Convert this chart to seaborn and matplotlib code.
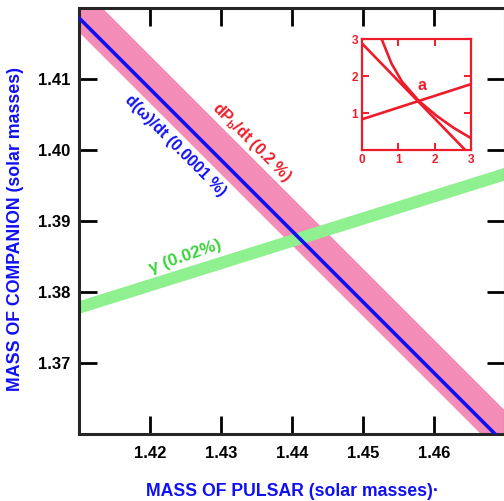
import numpy as np
import pandas as pd
import matplotlib
matplotlib.use("Agg")
import matplotlib.pyplot as plt
import seaborn as sns

# ---- data ----
pulsar_mass = [1.41, 1.47]
omega_dot_mc = [1.4186, 1.3586]          # d(omega)/dt line
pbdot_lo = [1.4166, 1.3566]              # dPb/dt band lower edge
pbdot_hi = [1.4233, 1.3633]              # dPb/dt band upper edge
gamma_lo = [1.3770, 1.3958]              # gamma band lower edge
gamma_hi = [1.3788, 1.3976]              # gamma band upper edge
x_ticks = [1.42, 1.43, 1.44, 1.45, 1.46]
y_ticks = [1.37, 1.38, 1.39, 1.40, 1.41]

# inset curves
inset_line_x = [0.0, 2.84]
inset_line_y = [2.88, 0.0]
inset_curve_x = [0.54, 0.81, 1.10, 1.57, 2.06, 2.52, 3.0]
inset_curve_y = [3.00, 2.34, 1.85, 1.32, 0.92, 0.60, 0.32]
inset_gamma_x = [0.0, 3.0]
inset_gamma_y = [0.83, 1.78]
inset_ticks = [0, 1, 2, 3]

BLUE = "#1010f4"
RED = "#ee1c2a"
GREEN = "#3ad43a"
PINK = "#f38cb6"
LGREEN = "#8ff08f"

sns.set_style("ticks")
plt.rcParams["font.family"] = ["Liberation Sans", "DejaVu Sans"]
plt.rcParams["font.weight"] = "bold"
plt.rcParams["mathtext.fontset"] = "custom"
plt.rcParams["mathtext.rm"] = "Liberation Sans:bold"
plt.rcParams["mathtext.it"] = "Liberation Sans:bold"
plt.rcParams["mathtext.bf"] = "Liberation Sans:bold"
plt.rcParams["mathtext.default"] = "rm"

fig = plt.figure(figsize=(5.04, 5.01), dpi=100)
W, H = 504, 501
ax = fig.add_axes([79 / W, (H - 434) / H, 426 / W, 426 / H])

ax.fill_between(pulsar_mass, pbdot_lo, pbdot_hi, color=PINK, lw=0, zorder=1)
ax.fill_between(pulsar_mass, gamma_lo, gamma_hi, color=LGREEN, lw=0, zorder=2)
df = pd.DataFrame({"mp": pulsar_mass, "mc": omega_dot_mc})
sns.lineplot(data=df, x="mp", y="mc", color=BLUE, lw=2.6, ax=ax, zorder=3)

ax.set_xlim(1.41, 1.47)
ax.set_ylim(1.36, 1.42)
ax.set_xticks(x_ticks)
ax.set_yticks(y_ticks)
ax.set_xticklabels([f"{v:.2f}" for v in x_ticks])
ax.set_yticklabels([f"{v:.2f}" for v in y_ticks])
ax.tick_params(direction="in", length=13, width=2.0, top=True, right=True,
               labelsize=12, colors="black")
ax.tick_params(axis="y", pad=6)
ax.tick_params(axis="x", pad=9)
for lab in ax.get_xticklabels() + ax.get_yticklabels():
    lab.set_fontweight("bold")
for sp in ax.spines.values():
    sp.set_linewidth(2.2)
    sp.set_visible(True)
ax.set_xlabel("")
ax.set_ylabel("")

ax.text(1.42352, 1.40056, "d(ω)/dt (0.0001 %)", color=BLUE, fontsize=11.5,
        fontweight="bold", rotation=-45, rotation_mode="anchor",
        ha="center", va="center", zorder=5)
ax.text(1.43437, 1.40113, r"dP$_\mathrm{b}$/dt (0.2 %)", color=RED, fontsize=11.5,
        fontweight="bold", rotation=-45, rotation_mode="anchor",
        ha="center", va="center", zorder=5)
ax.text(1.42493, 1.38493, "γ (0.02%)", color=GREEN, fontsize=12.5,
        fontweight="bold", rotation=19, rotation_mode="anchor",
        ha="center", va="center", zorder=5)

fig.text(292 / W, (H - 491) / H, "MASS OF PULSAR (solar masses)·", color=BLUE,
         fontsize=12.7, fontweight="bold", ha="center", va="center")
fig.text(16 / W, (H - 229) / H, "MASS OF COMPANION (solar masses)", color=BLUE,
         fontsize=12.8, fontweight="bold", ha="center", va="center", rotation=90)

# ---- inset ----
ins = fig.add_axes([362 / W, (H - 150) / H, 109 / W, 111 / H])
ins.set_facecolor("white")
sns.lineplot(x=inset_line_x, y=inset_line_y, color=RED, lw=1.9, ax=ins)
sns.lineplot(x=inset_curve_x, y=inset_curve_y, color=RED, lw=1.9, ax=ins)
sns.lineplot(x=inset_gamma_x, y=inset_gamma_y, color=RED, lw=1.9, ax=ins)
ins.set_xlim(0, 3)
ins.set_ylim(0, 3)
ins.set_xticks(inset_ticks)
ins.set_yticks(inset_ticks)
ins.set_xticklabels([str(t) for t in inset_ticks])
ins.set_yticklabels(["", "1", "2", "3"])
ins.tick_params(direction="in", length=5, width=1.4, top=True, right=True,
                labelsize=8.5, colors=RED, pad=3)
for lab in ins.get_xticklabels() + ins.get_yticklabels():
    lab.set_fontweight("bold")
for sp in ins.spines.values():
    sp.set_color(RED)
    sp.set_linewidth(1.6)
ins.text(1.64, 1.73, "a", color=RED, fontsize=11.5, fontweight="bold",
         ha="center", va="center")

fig.savefig("out.png", dpi=100, facecolor="white")
